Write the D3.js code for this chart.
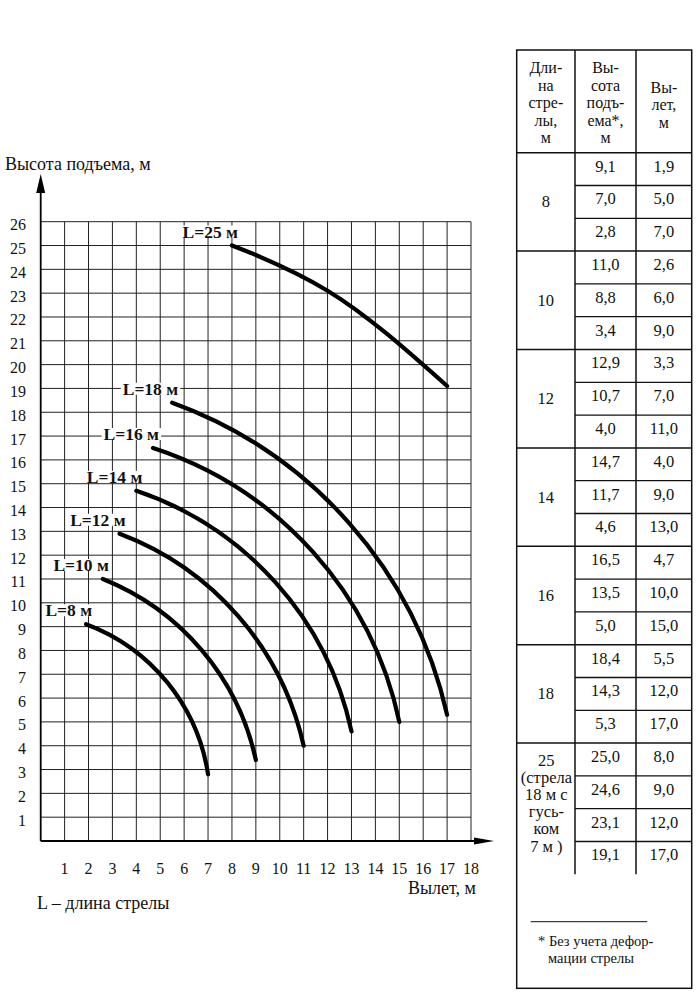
<!DOCTYPE html>
<html>
<head>
<meta charset="utf-8">
<script src="https://cdn.jsdelivr.net/npm/d3@7"></script>
<style>
  body { margin: 0; background: #fff; }
  text { font-family: "Liberation Serif", "DejaVu Serif", serif; fill: #111; }
</style>
</head>
<body>
<script>
// boom lengths, lifting heights and outreach, as in the table
var booms = [8, 10, 12, 14, 16, 18, 25];
var heights = [
  [9.1, 7.0, 2.8],
  [11.0, 8.8, 3.4],
  [12.9, 10.7, 4.0],
  [14.7, 11.7, 4.6],
  [16.5, 13.5, 5.0],
  [18.4, 14.3, 5.3],
  [25.0, 24.6, 23.1, 19.1]
];
var reaches = [
  [1.9, 5.0, 7.0],
  [2.6, 6.0, 9.0],
  [3.3, 7.0, 11.0],
  [4.0, 9.0, 13.0],
  [4.7, 10.0, 15.0],
  [5.5, 12.0, 17.0],
  [8.0, 9.0, 12.0, 17.0]
];
var xTicks = d3.range(1, 19);
var yTicks = d3.range(1, 27);

var headCols = [
  ["Дли-", "на", "стре-", "лы,", "м"],
  ["Вы-", "сота", "подъ-", "ема*,", "м"],
  ["Вы-", "лет,", "м"]
];
var longLabel = ["25", "(стрела", "18 м с", "гусь-", "ком", "7 м )"];
var footnote = ["* Без учета дефор-", "мации стрелы"];

var width = 700, height = 1008;
var svg = d3.select("body").append("svg")
  .attr("width", width).attr("height", height);

var x = d3.scaleLinear().domain([0, 18]).range([40.7, 471]);
var y = d3.scaleLinear().domain([0, 26]).range([841, 221.7]);
var fmt = function(v) { return d3.format(".1f")(v).replace(".", ","); };
var fs = 16;

// ---- grid
var grid = svg.append("g").attr("stroke", "#222").attr("stroke-width", 1);
grid.selectAll("line.v").data(xTicks).enter().append("line")
  .attr("x1", function(d) { return x(d); }).attr("x2", function(d) { return x(d); })
  .attr("y1", y(0)).attr("y2", y(26));
grid.selectAll("line.h").data(yTicks).enter().append("line")
  .attr("class", "h")
  .attr("x1", x(0)).attr("x2", x(18))
  .attr("y1", function(d) { return y(d); }).attr("y2", function(d) { return y(d); });

// ---- axes with arrows
svg.append("line").attr("x1", x(0)).attr("x2", x(0))
  .attr("y1", y(0)).attr("y2", 190)
  .attr("stroke", "#000").attr("stroke-width", 1.8);
svg.append("path").attr("d", "M" + x(0) + ",174 L" + (x(0) - 4.5) + ",193 L" + (x(0) + 4.5) + ",193 Z")
  .attr("fill", "#000");
svg.append("line").attr("x1", x(0)).attr("x2", 478)
  .attr("y1", y(0)).attr("y2", y(0))
  .attr("stroke", "#000").attr("stroke-width", 2);
svg.append("path").attr("d", "M494," + y(0) + " L474," + (y(0) - 3.5) + " L474," + (y(0) + 3.5) + " Z")
  .attr("fill", "#000");

svg.selectAll("text.yt").data(yTicks).enter().append("text")
  .attr("x", 26).attr("y", function(d) { return y(d) + 8.5; })
  .attr("text-anchor", "end").attr("font-size", fs)
  .text(function(d) { return d; });
svg.selectAll("text.xt").data(xTicks).enter().append("text")
  .attr("x", function(d) { return x(d); }).attr("y", 873.5)
  .attr("text-anchor", "middle").attr("font-size", fs)
  .text(function(d) { return d; });

svg.append("text").attr("x", 5).attr("y", 170).attr("font-size", 18)
  .text("Высота подъема, м");
svg.append("text").attr("x", 476).attr("y", 893.5).attr("font-size", 18)
  .attr("text-anchor", "end").text("Вылет, м");
svg.append("text").attr("x", 37).attr("y", 909).attr("font-size", 18)
  .text("L \u2013 длина стрелы");

// ---- curves: boom-tip arcs through the table points
var mono = d3.line()
  .x(function(d) { return x(d[0]); })
  .y(function(d) { return y(d[1]); })
  .curve(d3.curveMonotoneX);

function boomPath(pts) {
  if (pts.length !== 3) return mono(pts);
  var p = pts.map(function(d) { return [x(d[0]), y(d[1])]; });
  var ax = p[0][0], ay = p[0][1], bx = p[1][0], by = p[1][1], cx = p[2][0], cy = p[2][1];
  var dd = 2 * (ax * (by - cy) + bx * (cy - ay) + cx * (ay - by));
  var ux = ((ax * ax + ay * ay) * (by - cy) + (bx * bx + by * by) * (cy - ay) + (cx * cx + cy * cy) * (ay - by)) / dd;
  var uy = ((ax * ax + ay * ay) * (cx - bx) + (bx * bx + by * by) * (ax - cx) + (cx * cx + cy * cy) * (bx - ax)) / dd;
  var r = Math.hypot(ax - ux, ay - uy);
  var a0 = Math.atan2(ay - uy, ax - ux), a1 = Math.atan2(cy - uy, cx - ux);
  var cross = (bx - ax) * (cy - by) - (by - ay) * (cx - bx);
  var path = d3.path();
  path.moveTo(ax, ay);
  path.arc(ux, uy, r, a0, a1, cross < 0);
  return path.toString();
}

var curves = booms.map(function(b, i) {
  return { boom: b, pts: reaches[i].map(function(r, j) { return [r, heights[i][j]]; }) };
});

svg.append("g").selectAll("path").data(curves).enter().append("path")
  .attr("d", function(d) { return boomPath(d.pts); })
  .attr("fill", "none").attr("stroke", "#000")
  .attr("stroke-width", 4.2).attr("stroke-linecap", "round");

var labels = svg.append("g").selectAll("g").data(curves).enter().append("g")
  .attr("transform", function(d) {
    return "translate(" + (x(d.pts[0][0]) + 6) + "," + (y(d.pts[0][1]) - 14) + ")";
  });
labels.append("text")
  .attr("text-anchor", "end").attr("y", 6)
  .attr("font-size", 17.5).attr("font-weight", "bold")
  .text(function(d) { return "L=" + d.boom + " м"; })
  .each(function() {
    var bb = this.getBBox();
    d3.select(this.parentNode).insert("rect", "text")
      .attr("x", bb.x - 2).attr("y", -6).attr("width", bb.width + 4).attr("height", 12)
      .attr("fill", "#fff");
  });

// ---- table
var tx = [516.7, 575, 636, 691.7];
var tTop = 50, tHead = 152.7, rowH = 32.8, tBottom = 988.3;
var tbl = svg.append("g");
var cellCx = [(tx[0] + tx[1]) / 2, (tx[1] + tx[2]) / 2, (tx[2] + tx[3]) / 2];

var groupStart = [];
var acc = 0;
heights.forEach(function(h) { groupStart.push(acc); acc += h.length; });
var rowsEnd = tHead + acc * rowH;

tbl.append("rect").attr("x", tx[0]).attr("y", tTop)
  .attr("width", tx[3] - tx[0]).attr("height", tBottom - tTop)
  .attr("fill", "none").attr("stroke", "#111").attr("stroke-width", 1.5);
tbl.selectAll("line.col").data([tx[1], tx[2]]).enter().append("line")
  .attr("x1", function(d) { return d; }).attr("x2", function(d) { return d; })
  .attr("y1", tTop).attr("y2", rowsEnd)
  .attr("stroke", "#111").attr("stroke-width", 1.5);
tbl.append("line").attr("x1", tx[0]).attr("x2", tx[3]).attr("y1", tHead).attr("y2", tHead)
  .attr("stroke", "#111").attr("stroke-width", 1.5);

// header
headCols.forEach(function(lines, c) {
  var cy = c < 2 ? 103 : 105, sp = 17.5;
  lines.forEach(function(t, k) {
    tbl.append("text").attr("x", cellCx[c])
      .attr("y", cy + (k - (lines.length - 1) / 2) * sp + 5)
      .attr("text-anchor", "middle").attr("font-size", fs).text(t);
  });
});

heights.forEach(function(h, g) {
  var gTop = tHead + groupStart[g] * rowH;
  if (g > 0) {
    tbl.append("line").attr("x1", tx[0]).attr("x2", tx[3]).attr("y1", gTop).attr("y2", gTop)
      .attr("stroke", "#111").attr("stroke-width", 1.5);
  }
  h.forEach(function(v, r) {
    var rTop = gTop + r * rowH;
    if (r > 0) {
      tbl.append("line").attr("x1", tx[1]).attr("x2", tx[3]).attr("y1", rTop).attr("y2", rTop)
        .attr("stroke", "#111").attr("stroke-width", 1.3);
    }
    tbl.append("text").attr("x", cellCx[1]).attr("y", rTop + rowH / 2 + 2.5)
      .attr("text-anchor", "middle").attr("font-size", 16.5).text(fmt(v));
    tbl.append("text").attr("x", cellCx[2]).attr("y", rTop + rowH / 2 + 2.5)
      .attr("text-anchor", "middle").attr("font-size", 16.5).text(fmt(reaches[g][r]));
  });
  if (h.length === 3) {
    tbl.append("text").attr("x", cellCx[0]).attr("y", gTop + 1.5 * rowH + 5.5)
      .attr("text-anchor", "middle").attr("font-size", 16.5).text(booms[g]);
  } else {
    longLabel.forEach(function(t, k) {
      tbl.append("text").attr("x", cellCx[0] + 0.5).attr("y", gTop + 17 + k * 17.2 + 5.5)
        .attr("text-anchor", "middle").attr("font-size", 16.5).text(t);
    });
  }
});

// footnote
tbl.append("line").attr("x1", 530.7).attr("x2", 647.3).attr("y1", 921.7).attr("y2", 921.7)
  .attr("stroke", "#111").attr("stroke-width", 1);
tbl.append("text").attr("x", 538).attr("y", 946).attr("font-size", 14.5).text(footnote[0]);
tbl.append("text").attr("x", 548).attr("y", 963).attr("font-size", 14.5).text(footnote[1]);
</script>
</body>
</html>
